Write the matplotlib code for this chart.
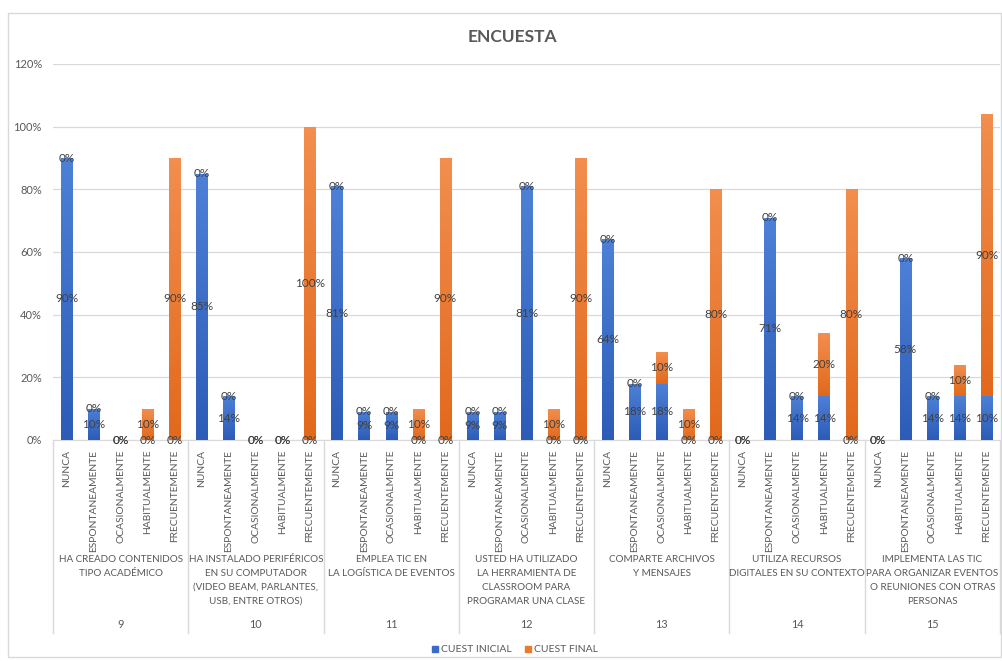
import numpy as np
import matplotlib
matplotlib.use('Agg')
import matplotlib.pyplot as plt
from matplotlib.patches import Rectangle
from matplotlib.lines import Line2D
from matplotlib.colors import LinearSegmentedColormap
import matplotlib.transforms as mtransforms

plt.rcParams['font.family'] = ['Lato', 'DejaVu Sans']

responses = ['NUNCA', 'ESPONTANEAMENTE', 'OCASIONALMENTE', 'HABITUALMENTE', 'FRECUENTEMENTE']
question_ids = ['9', '10', '11', '12', '13', '14', '15']
question_texts = [
    'HA CREADO CONTENIDOS\nTIPO ACADÉMICO',
    'HA INSTALADO PERIFÉRICOS\nEN SU COMPUTADOR\n(VIDEO BEAM, PARLANTES,\nUSB, ENTRE OTROS)',
    'EMPLEA TIC EN\nLA LOGÍSTICA DE EVENTOS',
    'USTED HA UTILIZADO\nLA HERRAMIENTA DE\nCLASSROOM PARA\nPROGRAMAR UNA CLASE',
    'COMPARTE ARCHIVOS\nY MENSAJES',
    'UTILIZA RECURSOS\nDIGITALES EN SU CONTEXTO',
    'IMPLEMENTA LAS TIC\nPARA ORGANIZAR EVENTOS\nO REUNIONES CON OTRAS\nPERSONAS',
]
# percentages per question, order of responses
inicial = [
    [90, 10, 0, 0, 0],
    [85, 14, 0, 0, 0],
    [81, 9, 9, 0, 0],
    [9, 9, 81, 0, 0],
    [64, 18, 18, 0, 0],
    [0, 71, 14, 14, 0],
    [0, 58, 14, 14, 14],
]
final = [
    [0, 0, 0, 10, 90],
    [0, 0, 0, 0, 100],
    [0, 0, 0, 10, 90],
    [0, 0, 0, 10, 90],
    [0, 0, 10, 10, 80],
    [0, 0, 0, 20, 80],
    [0, 0, 0, 10, 90],
]
# label shown in the original differs from bar height here
inicial_label_fix = {(6, 4): '10%'}

W, H = 1003, 661
fig = plt.figure(figsize=(W / 100, H / 100), dpi=100)
ax = fig.add_axes([53 / W, 1 - 440 / H, (1000 - 53) / W, (440 - 64) / H])

n_q = len(question_ids)
n_r = len(responses)
x = np.arange(n_q * n_r)
ini = np.array(inicial).flatten() / 100.0
fin = np.array(final).flatten() / 100.0

blue_cmap = LinearSegmentedColormap.from_list('b', ['#2c5cb8', '#4d80d6'])
orange_cmap = LinearSegmentedColormap.from_list('o', ['#e2691c', '#f28e4e'])
grad = np.linspace(0, 1, 64).reshape(-1, 1)

bw = 0.42
bars_i = ax.bar(x, ini, width=bw, color='#3a6bc8', zorder=2)
bars_f = ax.bar(x, fin, width=bw, bottom=ini, color='#ec7a2e', zorder=2)

for bars, cmap in [(bars_i, blue_cmap), (bars_f, orange_cmap)]:
    for p in bars:
        if p.get_height() <= 0:
            continue
        x0, y0 = p.get_x(), p.get_y()
        im = ax.imshow(grad, cmap=cmap, origin='lower', aspect='auto',
                       extent=[x0, x0 + p.get_width(), y0, y0 + p.get_height()], zorder=3)
        im.set_clip_path(p)

lbl_color = '#404040'
for i in range(n_q * n_r):
    q, r = divmod(i, n_r)
    txt = inicial_label_fix.get((q, r), '%d%%' % round(ini[i] * 100))
    ax.text(x[i], ini[i] / 2, txt, ha='center', va='center', fontsize=8.5,
            color=lbl_color, zorder=5, clip_on=False)
    ax.text(x[i], ini[i] + fin[i] / 2, '%d%%' % round(fin[i] * 100), ha='center',
            va='center', fontsize=8.5, color=lbl_color, zorder=5, clip_on=False)

ax.set_xlim(-0.5, n_q * n_r - 0.5)
ax.set_ylim(0, 1.2)
ax.set_yticks(np.arange(0, 1.21, 0.2))
ax.set_yticklabels(['%d%%' % round(v * 100) for v in np.arange(0, 1.21, 0.2)])
ax.set_xticks(x)
ax.set_xticklabels(responses * n_q, rotation=90, fontsize=7.4, color='#595959')
ax.tick_params(axis='x', length=0, pad=7)
ax.tick_params(axis='y', length=0, pad=8, labelsize=8, labelcolor='#595959')
ax.grid(axis='y', color='#d9d9d9', linewidth=0.9, zorder=0)
ax.set_axisbelow(True)
for s in ['top', 'right', 'left']:
    ax.spines[s].set_visible(False)
ax.spines['bottom'].set_color('#d9d9d9')

trans = mtransforms.blended_transform_factory(ax.transData, fig.transFigure)
for q in range(n_q):
    cx = q * n_r + (n_r - 1) / 2
    ax.text(cx, 1 - 555 / H, question_texts[q], transform=trans, ha='center', va='top',
            fontsize=7.1, color='#595959', linespacing=1.7)
    ax.text(cx, 1 - 625 / H, question_ids[q], transform=trans, ha='center', va='center',
            fontsize=7.8, color='#595959')
for q in range(n_q + 1):
    xb = q * n_r - 0.5
    ax.add_line(Line2D([xb, xb], [1 - 440 / H, 1 - 633 / H], transform=trans,
                       color='#d9d9d9', linewidth=1.0, clip_on=False))

fig.text(512 / W, 1 - 37 / H, 'ENCUESTA', ha='center', va='center', fontsize=12.5,
         fontweight='bold', color='#595959')

handles = [Rectangle((0, 0), 1, 1, color='#3a6bc8'), Rectangle((0, 0), 1, 1, color='#ec7a2e')]
fig.legend(handles, ['CUEST INICIAL', 'CUEST FINAL'], loc='center',
           bbox_to_anchor=(515 / W, 1 - 650 / H), ncol=2, frameon=False, fontsize=7.5,
           handlelength=0.6, handleheight=0.6, handletextpad=0.3, columnspacing=1.2,
           labelcolor='#595959')

fig.patches.append(Rectangle((8 / W, 1 - 657 / H), (1001 - 8) / W, (657 - 13) / H,
                             transform=fig.transFigure, fill=False, edgecolor='#d9d9d9',
                             linewidth=1.0))

fig.savefig('out.png', dpi=100)
